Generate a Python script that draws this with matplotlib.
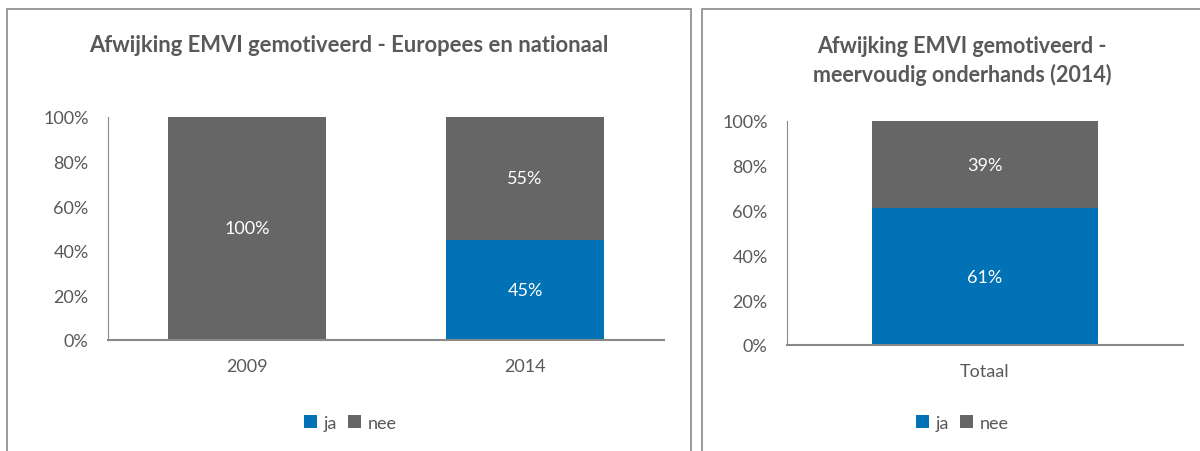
import matplotlib.pyplot as plt
from matplotlib.patches import Rectangle
from matplotlib.ticker import PercentFormatter

plt.rcParams['font.family'] = ['Lato', 'DejaVu Sans']

# Europees en nationaal, per jaar
years = ['2009', '2014']
ja_eu = [0, 45]
nee_eu = [100, 55]

# Meervoudig onderhands, 2014
totals = ['Totaal']
ja_mo = [61]
nee_mo = [39]

BLUE = '#0072b5'
GREY = '#666666'
TEXT = '#595959'
AXIS = '#898989'


def stacked(ax, cats, ja, nee, width):
    x = range(len(cats))
    ax.bar(x, ja, width, color=BLUE, label='ja')
    ax.bar(x, nee, width, bottom=ja, color=GREY, label='nee')
    for i in x:
        if ja[i] > 0:
            ax.text(i, ja[i] / 2, f'{ja[i]}%', ha='center', va='center',
                    color='white', fontsize=13)
        if nee[i] > 0:
            ax.text(i, ja[i] + nee[i] / 2, f'{nee[i]}%', ha='center',
                    va='center', color='white', fontsize=13)
    ax.set_xticks(list(x))
    ax.set_xticklabels(cats)
    ax.set_xlim(-0.5, len(cats) - 0.5)
    ax.set_ylim(0, 100)
    ax.set_yticks(range(0, 101, 20))
    ax.yaxis.set_major_formatter(PercentFormatter(decimals=0))
    for s in ['top', 'right']:
        ax.spines[s].set_visible(False)
    for s in ['left', 'bottom']:
        ax.spines[s].set_color(AXIS)
        ax.spines[s].set_linewidth(1.5)
    ax.spines['left'].set_linewidth(0.8)
    ax.tick_params(axis='both', length=0, colors=TEXT, labelsize=13)
    ax.tick_params(axis='x', pad=13)
    ax.tick_params(axis='y', pad=14)


def legend(ax, cx):
    ax.legend(loc='center', bbox_to_anchor=(cx / 1200, 1 - 424 / 452),
              bbox_transform=fig.transFigure, ncol=2, frameon=False,
              handlelength=0.75, handleheight=0.75, handletextpad=0.35,
              columnspacing=0.6, fontsize=13, labelcolor=TEXT)


fig = plt.figure(figsize=(12, 4.52), dpi=100)

# panel frames
fig.patches.append(Rectangle((7 / 1200, -0.05), 684 / 1200, 1.05 - 10 / 452,
                             transform=fig.transFigure, fill=False,
                             edgecolor=AXIS, linewidth=1.2))
fig.patches.append(Rectangle((702 / 1200, -0.05), 520 / 1200, 1.05 - 10 / 452,
                             transform=fig.transFigure, fill=False,
                             edgecolor=AXIS, linewidth=1.2))

ax1 = fig.add_axes([108 / 1200, 1 - 341 / 452, 556 / 1200, 223 / 452])
stacked(ax1, years, ja_eu, nee_eu, 0.57)
legend(ax1, 350)
fig.text(349 / 1200, 1 - 46 / 452,
         'Afwijking EMVI gemotiveerd - Europees en nationaal',
         ha='center', va='center', fontsize=15.8, fontweight='bold', color=TEXT)

ax2 = fig.add_axes([787 / 1200, 1 - 346 / 452, 396 / 1200, 224 / 452])
stacked(ax2, totals, ja_mo, nee_mo, 0.573)
legend(ax2, 962)
fig.text(962 / 1200, 1 - 61 / 452,
         'Afwijking EMVI gemotiveerd -\nmeervoudig onderhands (2014)',
         ha='center', va='center', fontsize=15.5, fontweight='bold',
         color=TEXT, linespacing=1.42)

fig.savefig('out.png', dpi=100)
